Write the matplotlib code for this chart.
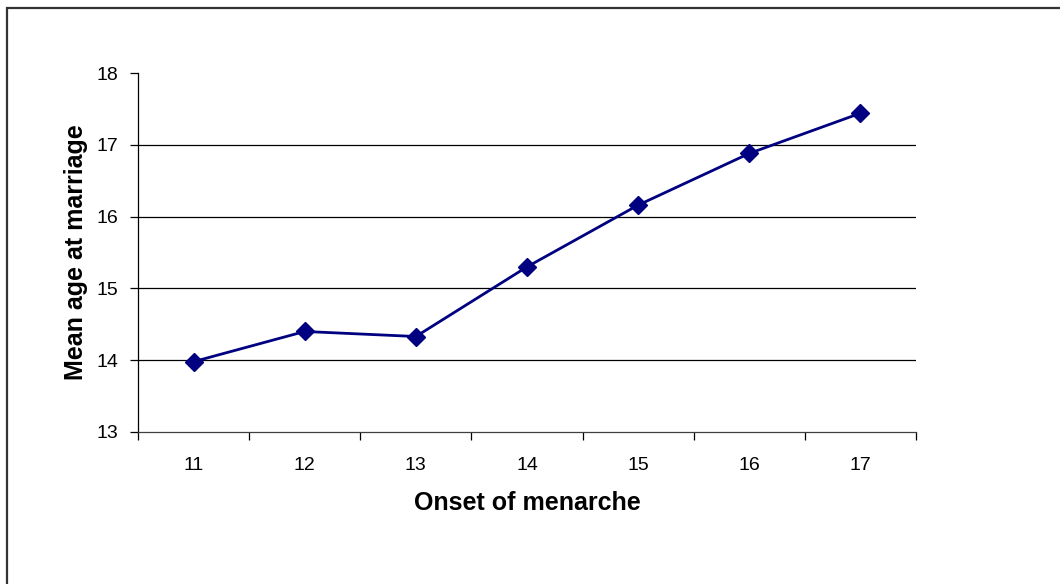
import matplotlib
matplotlib.use("Agg")
import matplotlib.pyplot as plt
from matplotlib.patches import Rectangle

categories = ["11", "12", "13", "14", "15", "16", "17"]
mean_age = [13.98, 14.40, 14.33, 15.30, 16.16, 16.88, 17.44]
y_ticks = [13, 14, 15, 16, 17, 18]

plt.rcParams['font.family'] = ['Liberation Sans', 'DejaVu Sans']

fig = plt.figure(figsize=(10.6, 5.84), dpi=100)
fig.patches.append(Rectangle((6.5/1060, -0.1), 1.2, 1.1 - 7.5/584 + 0.0, transform=fig.transFigure,
                             fill=False, edgecolor='#333333', linewidth=1.6, zorder=0))

ax = fig.add_axes([138/1060, (584-432)/584, (916-138)/1060, (432-73)/584])
x = list(range(len(categories)))
ax.plot(x, mean_age, color='#000080', linewidth=2.0, marker='D', markersize=9,
        markerfacecolor='#000080', markeredgecolor='#000080', zorder=3)

ax.set_xlim(-0.5, len(categories) - 0.5)
ax.set_ylim(13, 18)
ax.set_yticks(y_ticks)
ax.set_yticklabels([str(v) for v in y_ticks], fontsize=14)
for v in y_ticks[1:-1]:
    ax.axhline(v, color='black', linewidth=0.9, zorder=1)

ax.set_xticks(x)
ax.set_xticklabels(categories, fontsize=14)
ax.tick_params(axis='x', which='major', length=0, pad=18)
ax.set_xticks([i - 0.5 for i in range(len(categories) + 1)], minor=True)
ax.tick_params(axis='x', which='minor', length=6, width=0.9, direction='out', color='black')
ax.tick_params(axis='y', length=6, width=0.9, direction='out', pad=8)

for s in ['top', 'right']:
    ax.spines[s].set_visible(False)
ax.spines['left'].set_linewidth(0.9)
ax.spines['bottom'].set_linewidth(0.9)
ax.spines['bottom'].set_color('#404040')

ax.set_xlabel("Onset of menarche", fontsize=18, fontweight='bold', labelpad=12)
ax.set_ylabel("Mean age at marriage", fontsize=18, fontweight='bold', labelpad=6)

fig.savefig("out.png", dpi=100)
